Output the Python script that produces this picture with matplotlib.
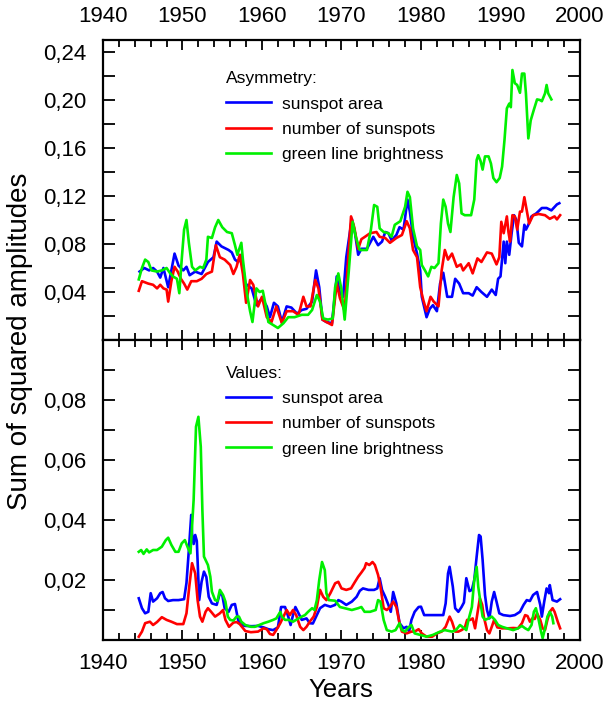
import matplotlib
matplotlib.use("Agg")
import matplotlib.pyplot as plt
from matplotlib.ticker import MultipleLocator, FuncFormatter, FixedLocator

plt.rcParams['font.family'] = ['Liberation Sans', 'DejaVu Sans']

series_names = ['sunspot area', 'number of sunspots', 'green line brightness']
series_colors = ['#0000ff', '#ff0000', '#00f000']

# ---------------- Asymmetry (top panel) ----------------
asym_area_years = [1944.6, 1945.2, 1945.8, 1946.3, 1946.8, 1947.2, 1947.6, 1948.2, 1948.6, 1949.0,
                   1949.5, 1950.1, 1950.5, 1950.9, 1951.6, 1952.4, 1953.2, 1953.9, 1954.3, 1954.9,
                   1955.8, 1956.2, 1956.6, 1957.0, 1957.4, 1957.9, 1958.3, 1958.7, 1959.3, 1960.0,
                   1960.6, 1961.0, 1961.5, 1962.0, 1962.5, 1963.1, 1963.7, 1964.4, 1965.0, 1965.6,
                   1966.3, 1966.8, 1967.2, 1967.6, 1968.1, 1968.8, 1969.4, 1969.8, 1970.2, 1970.6,
                   1971.3, 1971.7, 1972.1, 1972.5, 1973.2, 1974.0, 1974.6, 1975.1, 1975.5, 1975.9,
                   1976.3, 1976.9, 1977.3, 1977.8, 1978.3, 1978.6, 1979.0, 1979.5, 1979.9, 1980.1,
                   1980.7, 1981.1, 1981.5, 1982.0, 1982.4, 1982.8, 1983.3, 1983.9, 1984.3, 1984.8,
                   1985.3, 1986.0, 1986.5, 1987.0, 1987.6, 1988.3, 1988.9, 1989.4, 1989.7, 1990.0,
                   1990.4, 1990.6, 1990.8, 1991.1, 1991.4, 1991.7, 1992.0, 1992.3, 1992.7, 1993.0,
                   1993.2, 1993.5, 1993.9, 1994.5, 1995.2, 1995.8, 1996.4, 1997.1, 1997.4]
asym_area = [0.057, 0.060, 0.058, 0.060, 0.057, 0.052, 0.060, 0.044, 0.058, 0.072,
             0.062, 0.058, 0.061, 0.054, 0.057, 0.055, 0.065, 0.069, 0.082, 0.078,
             0.075, 0.073, 0.067, 0.065, 0.071, 0.047, 0.045, 0.043, 0.029, 0.035,
             0.028, 0.019, 0.031, 0.028, 0.015, 0.028, 0.027, 0.022, 0.025, 0.026,
             0.032, 0.058, 0.044, 0.017, 0.015, 0.014, 0.053, 0.039, 0.036, 0.069,
             0.101, 0.089, 0.071, 0.076, 0.076, 0.086, 0.079, 0.082, 0.090, 0.089,
             0.083, 0.0875, 0.094, 0.092, 0.117, 0.107, 0.086, 0.072, 0.058, 0.036,
             0.019, 0.026, 0.029, 0.024, 0.047, 0.056, 0.036, 0.036, 0.051, 0.047,
             0.039, 0.039, 0.037, 0.044, 0.040, 0.036, 0.042, 0.0375, 0.051, 0.053,
             0.082, 0.064, 0.082, 0.071, 0.089, 0.104, 0.100, 0.081, 0.078, 0.096,
             0.092, 0.096, 0.103, 0.1055, 0.110, 0.110, 0.108, 0.113, 0.114]

asym_number_years = [1944.5, 1944.9, 1945.7, 1946.3, 1946.8, 1947.2, 1947.6, 1948.0, 1948.2, 1948.6,
                     1949.0, 1949.4, 1949.8, 1950.2, 1950.6, 1951.1, 1951.8, 1952.4, 1953.0, 1953.7,
                     1954.2, 1954.7, 1955.3, 1956.0, 1956.4, 1956.8, 1957.2, 1957.6, 1958.0, 1958.5,
                     1958.9, 1959.5, 1960.0, 1960.6, 1961.2, 1961.8, 1962.5, 1963.1, 1963.9, 1964.6,
                     1965.2, 1965.6, 1966.1, 1966.7, 1967.1, 1967.6, 1968.1, 1968.8, 1969.4, 1969.8,
                     1970.4, 1970.8, 1971.2, 1971.6, 1972.1, 1972.5, 1972.95, 1973.6, 1974.4, 1974.8,
                     1975.5, 1976.1, 1976.9, 1977.6, 1978.2, 1978.6, 1979.0, 1979.5, 1979.9, 1980.3,
                     1980.7, 1981.2, 1981.6, 1982.2, 1982.6, 1983.0, 1983.4, 1983.9, 1984.5, 1985.0,
                     1985.3, 1986.0, 1986.5, 1987.1, 1987.6, 1988.3, 1988.9, 1989.5, 1989.85, 1990.1,
                     1990.4, 1990.8, 1991.0, 1991.2, 1991.5, 1991.8, 1992.1, 1992.45, 1992.7, 1993.0,
                     1993.3, 1993.6, 1994.1, 1994.8, 1995.6, 1996.2, 1996.8, 1997.1, 1997.5]
asym_number = [0.041, 0.049, 0.047, 0.046, 0.043, 0.046, 0.043, 0.042, 0.032, 0.049,
               0.061, 0.057, 0.051, 0.047, 0.042, 0.049, 0.049, 0.051, 0.055, 0.057,
               0.079, 0.069, 0.067, 0.0625, 0.055, 0.061, 0.071, 0.055, 0.031, 0.050,
               0.046, 0.028, 0.036, 0.019, 0.015, 0.028, 0.014, 0.024, 0.024, 0.021,
               0.036, 0.028, 0.028, 0.050, 0.043, 0.017, 0.015, 0.0125, 0.047, 0.035,
               0.024, 0.064, 0.103, 0.094, 0.076, 0.084, 0.086, 0.089, 0.090, 0.086,
               0.085, 0.081, 0.085, 0.0875, 0.099, 0.093, 0.075, 0.069, 0.044, 0.033,
               0.024, 0.036, 0.032, 0.028, 0.058, 0.075, 0.067, 0.072, 0.061, 0.063,
               0.058, 0.064, 0.0555, 0.068, 0.065, 0.073, 0.072, 0.063, 0.069, 0.0985,
               0.089, 0.103, 0.090, 0.082, 0.104, 0.103, 0.092, 0.107, 0.107, 0.119,
               0.108, 0.097, 0.104, 0.105, 0.104, 0.101, 0.103, 0.1005, 0.104]

asym_green_years = [1944.5, 1944.9, 1945.3, 1945.7, 1946.1, 1946.8, 1947.4, 1948.0, 1948.4, 1948.8,
                    1949.3, 1949.6, 1949.9, 1950.2, 1950.5, 1950.8, 1951.2, 1951.6, 1952.2, 1952.6,
                    1953.0, 1953.2, 1953.7, 1954.1, 1954.5, 1955.0, 1955.6, 1956.2, 1956.6, 1956.9,
                    1957.4, 1957.6, 1958.1, 1958.5, 1958.8, 1959.3, 1959.7, 1960.1, 1960.4, 1960.8,
                    1961.4, 1962.0, 1962.7, 1963.3, 1964.1, 1965.0, 1965.8, 1966.3, 1966.9, 1967.3,
                    1967.7, 1968.3, 1968.9, 1969.2, 1969.6, 1970.0, 1970.4, 1970.9, 1971.4, 1971.8,
                    1972.3, 1973.2, 1973.7, 1974.1, 1974.5, 1974.8, 1975.3, 1975.9, 1976.3, 1976.7,
                    1977.4, 1978.0, 1978.3, 1978.6, 1979.0, 1979.5, 1979.9, 1980.1, 1980.5, 1980.9,
                    1981.3, 1981.7, 1982.2, 1982.5, 1982.8, 1983.1, 1983.4, 1983.7, 1984.1, 1984.5,
                    1984.8, 1985.1, 1985.5, 1986.3, 1986.7, 1987.0, 1987.2, 1987.5, 1987.75, 1988.05,
                    1988.5, 1988.8, 1989.1, 1989.5, 1989.9, 1990.2, 1990.5, 1990.8, 1991.1, 1991.3,
                    1991.5, 1991.8, 1992.1, 1992.45, 1992.7, 1993.0, 1993.2, 1993.5, 1993.8, 1994.2,
                    1994.6, 1994.95, 1995.2, 1995.6, 1995.8, 1996.0, 1996.4]
asym_green = [0.0505, 0.060, 0.067, 0.065, 0.058, 0.057, 0.058, 0.060, 0.056, 0.053,
              0.051, 0.039, 0.067, 0.092, 0.100, 0.081, 0.061, 0.058, 0.061, 0.060,
              0.067, 0.086, 0.085, 0.094, 0.100, 0.094, 0.090, 0.089, 0.079, 0.071,
              0.081, 0.067, 0.039, 0.024, 0.015, 0.043, 0.040, 0.041, 0.031, 0.015,
              0.0125, 0.010, 0.014, 0.019, 0.019, 0.021, 0.021, 0.025, 0.0375, 0.032,
              0.018, 0.017, 0.018, 0.044, 0.0555, 0.042, 0.017, 0.056, 0.0985, 0.086,
              0.075, 0.075, 0.092, 0.1125, 0.111, 0.093, 0.090, 0.089, 0.086, 0.096,
              0.099, 0.111, 0.1235, 0.119, 0.093, 0.078, 0.075, 0.0625, 0.058, 0.053,
              0.061, 0.060, 0.064, 0.097, 0.117, 0.111, 0.097, 0.090, 0.119, 0.1375,
              0.1305, 0.1055, 0.104, 0.104, 0.117, 0.150, 0.154, 0.149, 0.142, 0.153,
              0.153, 0.147, 0.135, 0.1315, 0.135, 0.1445, 0.1665, 0.193, 0.197, 0.194,
              0.225, 0.214, 0.2125, 0.206, 0.222, 0.222, 0.2055, 0.168, 0.183, 0.192,
              0.2005, 0.200, 0.199, 0.2055, 0.2125, 0.2055, 0.2005]

# ---------------- Values (bottom panel) ----------------
val_area_years = [1944.5, 1944.9, 1945.3, 1945.7, 1946.0, 1946.3, 1946.8, 1947.2, 1947.5, 1947.8,
                  1948.2, 1948.8, 1949.5, 1950.2, 1950.5, 1950.8, 1951.1, 1951.2, 1951.4, 1951.6,
                  1951.8, 1952.1, 1952.4, 1952.7, 1953.0, 1953.3, 1953.7, 1954.3, 1954.7, 1955.0,
                  1955.3, 1955.8, 1956.2, 1956.6, 1957.0, 1957.4, 1957.9, 1958.7, 1959.5, 1960.2,
                  1960.8, 1961.4, 1962.0, 1962.4, 1962.9, 1963.3, 1963.6, 1963.9, 1964.2, 1964.6,
                  1965.0, 1965.6, 1966.0, 1966.4, 1966.8, 1967.3, 1967.9, 1968.6, 1969.2, 1969.6,
                  1970.0, 1970.6, 1971.3, 1971.9, 1972.3, 1972.7, 1973.4, 1974.1, 1974.5, 1974.8,
                  1975.1, 1975.5, 1975.9, 1976.2, 1976.5, 1976.9, 1977.3, 1977.8, 1978.2, 1978.5,
                  1978.8, 1979.2, 1979.7, 1980.0, 1980.4, 1981.0, 1981.7, 1982.4, 1982.8, 1983.1,
                  1983.4, 1983.6, 1984.0, 1984.3, 1984.7, 1985.1, 1985.4, 1985.7, 1986.1, 1986.4,
                  1986.7, 1987.0, 1987.3, 1987.5, 1987.75, 1988.05, 1988.3, 1988.6, 1988.9, 1989.2,
                  1989.5, 1989.85, 1990.35, 1991.2, 1991.8, 1992.45, 1992.9, 1993.3, 1993.7, 1994.1,
                  1994.6, 1995.0, 1995.2, 1995.5, 1995.8, 1996.1, 1996.2, 1996.55, 1997.1, 1997.5]
val_area = [0.0139, 0.0106, 0.0089, 0.0094, 0.0156, 0.0128, 0.0139, 0.0156, 0.0160, 0.0139,
            0.0130, 0.0133, 0.0133, 0.0136, 0.0190, 0.0300, 0.0417, 0.0355, 0.0320, 0.0350,
            0.0330, 0.0133, 0.0194, 0.0228, 0.0210, 0.0144, 0.0122, 0.0117, 0.0156, 0.0150,
            0.0106, 0.0094, 0.0117, 0.0120, 0.0067, 0.0050, 0.0047, 0.0046, 0.0047, 0.0042,
            0.0036, 0.0033, 0.0042, 0.0110, 0.0110, 0.0078, 0.0050, 0.0083, 0.0110, 0.0089,
            0.0067, 0.0072, 0.0056, 0.0055, 0.0078, 0.0106, 0.0117, 0.0111, 0.0117, 0.0133,
            0.0128, 0.0117, 0.0128, 0.0144, 0.0164, 0.0172, 0.0167, 0.0167, 0.0172, 0.0206,
            0.0167, 0.0144, 0.0117, 0.0094, 0.0160, 0.0122, 0.0056, 0.0039, 0.0044, 0.0028,
            0.0067, 0.0094, 0.0110, 0.0111, 0.0083, 0.0083, 0.0083, 0.0083, 0.0083, 0.0122,
            0.0222, 0.0244, 0.0178, 0.0106, 0.0094, 0.0110, 0.0125, 0.0206, 0.0163, 0.0167,
            0.0200, 0.0278, 0.0350, 0.0345, 0.0267, 0.0150, 0.0100, 0.0072, 0.0128, 0.0160,
            0.0128, 0.0089, 0.0083, 0.0080, 0.0083, 0.0094, 0.0117, 0.0133, 0.0130, 0.0150,
            0.0160, 0.0117, 0.0078, 0.0128, 0.0172, 0.0156, 0.0183, 0.0133, 0.0128, 0.0136]

val_number_years = [1944.5, 1944.9, 1945.3, 1945.9, 1946.3, 1946.8, 1947.4, 1948.0, 1948.6, 1949.3,
                    1950.1, 1950.5, 1950.85, 1951.2, 1951.6, 1951.9, 1952.2, 1952.5, 1952.9, 1953.2,
                    1953.6, 1954.1, 1954.7, 1955.1, 1955.4, 1955.85, 1956.4, 1956.8, 1957.2, 1957.9,
                    1958.6, 1959.5, 1960.2, 1960.6, 1961.0, 1961.4, 1961.8, 1962.3, 1962.7, 1963.1,
                    1963.5, 1963.9, 1964.3, 1964.8, 1965.2, 1965.6, 1966.0, 1966.5, 1966.9, 1967.3,
                    1967.7, 1968.1, 1968.6, 1969.2, 1969.6, 1970.0, 1970.6, 1971.2, 1971.7, 1972.1,
                    1972.5, 1972.9, 1973.1, 1973.5, 1973.9, 1974.2, 1974.6, 1974.9, 1975.3, 1975.7,
                    1976.1, 1976.5, 1976.9, 1977.3, 1977.6, 1978.2, 1978.8, 1979.2, 1979.7, 1980.1,
                    1980.7, 1981.4, 1982.0, 1982.6, 1983.1, 1983.6, 1983.9, 1984.3, 1984.7, 1985.1,
                    1985.5, 1985.8, 1986.2, 1986.5, 1986.8, 1987.1, 1987.4, 1987.7, 1987.9, 1988.3,
                    1988.6, 1988.9, 1989.2, 1989.6, 1990.2, 1991.0, 1991.6, 1992.2, 1992.7, 1993.1,
                    1993.4, 1993.7, 1994.0, 1994.3, 1994.6, 1995.0, 1995.3, 1995.6, 1995.9, 1996.2,
                    1996.55, 1996.8, 1997.2, 1997.5]
val_number = [0.0011, 0.0028, 0.0056, 0.0061, 0.0050, 0.0060, 0.0076, 0.0067, 0.0061, 0.0053,
              0.0053, 0.0089, 0.0178, 0.0256, 0.0222, 0.0133, 0.0078, 0.0061, 0.0094, 0.0106,
              0.0094, 0.0078, 0.0089, 0.0100, 0.0067, 0.0044, 0.0058, 0.0060, 0.0053, 0.0030,
              0.0026, 0.0028, 0.0039, 0.0036, 0.0020, 0.0017, 0.0033, 0.0056, 0.0078, 0.0100,
              0.0083, 0.0100, 0.0083, 0.0044, 0.0033, 0.0044, 0.0061, 0.0078, 0.0110, 0.0167,
              0.0144, 0.0133, 0.0156, 0.0189, 0.0194, 0.0172, 0.0167, 0.0172, 0.0194, 0.0211,
              0.0225, 0.0240, 0.0256, 0.0250, 0.0260, 0.0250, 0.0217, 0.0178, 0.0106, 0.0100,
              0.0110, 0.0128, 0.0110, 0.0056, 0.0028, 0.0022, 0.0028, 0.0028, 0.0036, 0.0022,
              0.0011, 0.0011, 0.0022, 0.0028, 0.0044, 0.0078, 0.0061, 0.0028, 0.0028, 0.0033,
              0.0040, 0.0067, 0.0067, 0.0072, 0.0039, 0.0089, 0.0139, 0.0117, 0.0078, 0.0033,
              0.0022, 0.0044, 0.0067, 0.0042, 0.0039, 0.0039, 0.0040, 0.0039, 0.0056, 0.0083,
              0.0080, 0.0061, 0.0072, 0.0070, 0.0089, 0.0067, 0.0039, 0.0033, 0.0067, 0.0094,
              0.0106, 0.0094, 0.0061, 0.0039]

val_green_years = [1944.5, 1944.8, 1945.1, 1945.5, 1945.8, 1946.3, 1946.8, 1947.4, 1947.9, 1948.2,
                   1948.6, 1949.1, 1949.5, 1949.9, 1950.3, 1950.7, 1951.0, 1951.4, 1951.7, 1952.0,
                   1952.3, 1952.5, 1952.7, 1953.2, 1953.5, 1953.7, 1954.1, 1954.4, 1954.7, 1955.1,
                   1955.4, 1955.7, 1956.0, 1956.4, 1956.8, 1957.1, 1957.4, 1957.9, 1958.6, 1959.1,
                   1960.2, 1960.8, 1961.4, 1961.8, 1962.3, 1962.5, 1962.9, 1963.4, 1963.9, 1964.6,
                   1965.0, 1965.4, 1965.8, 1966.3, 1966.6, 1966.9, 1967.2, 1967.55, 1967.9, 1968.1,
                   1968.4, 1969.2, 1969.8, 1970.4, 1971.3, 1972.1, 1972.5, 1972.9, 1973.6, 1974.3,
                   1974.6, 1974.9, 1975.3, 1975.7, 1976.3, 1976.8, 1977.3, 1977.6, 1978.0, 1978.5,
                   1978.8, 1979.2, 1979.9, 1980.7, 1981.5, 1982.4, 1983.0, 1983.9, 1984.4, 1984.9,
                   1985.3, 1985.7, 1986.0, 1986.4, 1986.7, 1987.0, 1987.2, 1987.5, 1987.75, 1988.05,
                   1988.5, 1988.9, 1989.3, 1989.7, 1990.2, 1990.8, 1991.6, 1992.2, 1992.7, 1993.1,
                   1993.5, 1993.9, 1994.2, 1994.45, 1994.8, 1995.1, 1995.3, 1995.6, 1995.9, 1996.2,
                   1996.5, 1996.65]
val_green = [0.0294, 0.0300, 0.0287, 0.0302, 0.0292, 0.0300, 0.0300, 0.0311, 0.0333, 0.0341,
             0.0317, 0.0294, 0.0294, 0.0322, 0.0333, 0.0306, 0.0289, 0.0467, 0.0711, 0.0744,
             0.0644, 0.0433, 0.0278, 0.0250, 0.0211, 0.0161, 0.0133, 0.0130, 0.0167, 0.0150,
             0.0128, 0.0078, 0.0067, 0.0065, 0.0078, 0.0078, 0.0061, 0.0050, 0.0044, 0.0044,
             0.0056, 0.0061, 0.0067, 0.0072, 0.0094, 0.0078, 0.0067, 0.0067, 0.0061, 0.0072,
             0.0078, 0.0083, 0.0094, 0.0106, 0.0100, 0.0133, 0.0200, 0.0260, 0.0233, 0.0156,
             0.0133, 0.0131, 0.0110, 0.0106, 0.0100, 0.0106, 0.0110, 0.0094, 0.0094, 0.0100,
             0.0133, 0.0128, 0.0067, 0.0033, 0.0028, 0.0033, 0.0056, 0.0033, 0.0028, 0.0044,
             0.0050, 0.0022, 0.0017, 0.0011, 0.0017, 0.0028, 0.0033, 0.0028, 0.0033, 0.0050,
             0.0042, 0.0033, 0.0070, 0.0110, 0.0200, 0.0244, 0.0178, 0.0122, 0.0078, 0.0067,
             0.0072, 0.0078, 0.0067, 0.0050, 0.0044, 0.0039, 0.0033, 0.0039, 0.0047, 0.0039,
             0.0033, 0.0050, 0.0094, 0.0106, 0.0067, 0.0028, 0.0006, 0.0039, 0.0078, 0.0094,
             0.0078, 0.0056]

panels = [
    dict(title='Asymmetry:', ylim=(0, 0.25), major=0.04, minor=0.02,
         series=[(asym_area_years, asym_area), (asym_number_years, asym_number),
                 (asym_green_years, asym_green)]),
    dict(title='Values:', ylim=(0, 0.1), major=0.02, minor=0.01,
         series=[(val_area_years, val_area), (val_number_years, val_number),
                 (val_green_years, val_green)]),
]

W, H = 614, 704
fig = plt.figure(figsize=(W / 100, H / 100), dpi=100)
left, right = 103 / W, 580 / W
ax1 = fig.add_axes([left, 1 - 340 / H, right - left, 300 / H])
ax2 = fig.add_axes([left, 1 - 640 / H, right - left, 300 / H], sharex=ax1)

comma = FuncFormatter(lambda v, p: f"{v:.2f}".replace('.', ','))

for ax, panel, leg_y in zip([ax1, ax2], panels, [0.895, 0.912]):
    for (xs, ys), name, col in zip(panel['series'], series_names, series_colors):
        ax.plot(xs, ys, color=col, lw=1.9, label=name, solid_joinstyle='round')
    ax.set_xlim(1940, 2000)
    ax.set_ylim(*panel['ylim'])
    lo, hi = panel['ylim']
    maj = panel['major']
    n = int(round(hi / maj))
    ax.yaxis.set_major_locator(FixedLocator([maj * k for k in range(1, n + 1) if maj * k < hi - 1e-9]))
    ax.yaxis.set_minor_locator(MultipleLocator(panel['minor']))
    ax.yaxis.set_major_formatter(comma)
    ax.xaxis.set_major_locator(MultipleLocator(10))
    ax.xaxis.set_minor_locator(MultipleLocator(2))
    ax.tick_params(axis='both', which='both', direction='in', top=True, bottom=True,
                   left=True, right=True, width=1.3, labelsize=16)
    ax.tick_params(axis='y', which='both', length=8.5, pad=12)
    ax.tick_params(axis='x', which='major', length=7.5, pad=9.5)
    ax.tick_params(axis='x', which='minor', length=5)
    for s in ax.spines.values():
        s.set_linewidth(1.6)
    leg = ax.legend(title=panel['title'], loc='upper left', bbox_to_anchor=(0.258, leg_y),
                    frameon=False, fontsize=12.5, title_fontsize=12.5, alignment='left',
                    borderpad=0, borderaxespad=0, handlelength=2.6, handletextpad=0.6,
                    labelspacing=0.57)

ax1.tick_params(axis='x', which='both', labeltop=True, labelbottom=False)
ax2.tick_params(axis='x', which='both', labeltop=False, labelbottom=True)

fig.text(20 / W, 1 - 341 / H, 'Sum of squared amplitudes', rotation=90,
         ha='center', va='center', fontsize=20)
fig.text(341 / W, 1 - 690 / H, 'Years', ha='center', va='center', fontsize=18.5)

fig.savefig('out.png', dpi=100)
